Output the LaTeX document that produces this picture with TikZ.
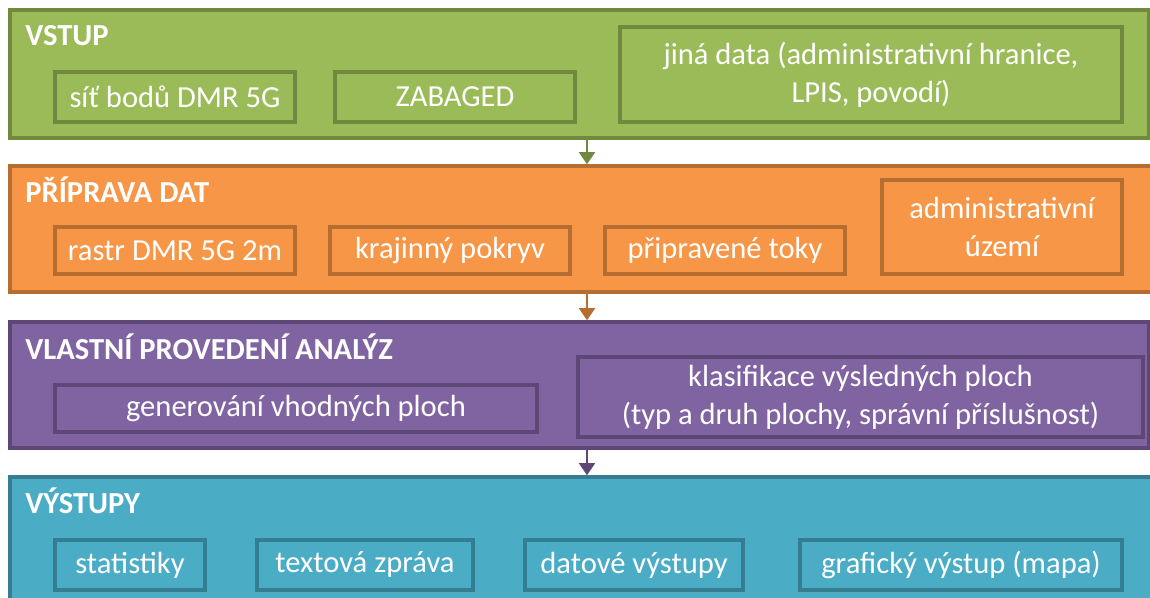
\documentclass[tikz,border=0pt]{standalone}
\usepackage{fontspec}
\setmainfont{Carlito}
\usepackage{tikz}
\usetikzlibrary{arrows.meta}
\definecolor{zelena}{HTML}{9BBB59}
\definecolor{zelenaT}{HTML}{71893F}
\definecolor{oranzova}{HTML}{F79646}
\definecolor{oranzovaT}{HTML}{B66D31}
\definecolor{fialova}{HTML}{8064A2}
\definecolor{fialovaT}{HTML}{5C4776}
\definecolor{tyrkys}{HTML}{4BACC6}
\definecolor{tyrkysT}{HTML}{357D91}
\newcommand{\pismo}{\fontsize{17.4}{21.6}\selectfont}
\tikzset{
  Rozmer/.style 2 args={minimum width=#1*0.02cm, minimum height=#2*0.02cm}, % v pixelech
  Pas/.style={draw=#1T, fill=#1, line width=1.9pt, inner sep=0pt}, % pasy jednotlivych kroku
  Pol/.style={draw=#1T, line width=1.9pt, inner sep=0pt, text=white, align=center}, % polozky
  Nadpis/.style={anchor=west, inner sep=0pt, text=white, font=\pismo\bfseries},
  Sipka/.style={#1T, line width=1.7pt, -{Triangle[width=9pt,length=7pt]}}
}

\begin{document}
\begin{tikzpicture}[x=0.02cm, y=-0.02cm,
font=\pismo
]
\useasboundingbox (0,0) rectangle (1150,598);

%Pasy
\node[Pas=zelena, Rozmer={1139}{128}] (vstup) at (579.5,74) {};
\node[Pas=oranzova, Rozmer={1150}{126}] (priprava) at (585,229) {};
\node[Pas=fialova, Rozmer={1139}{126}] (analyza) at (579.5,385) {};
\node[Pas=tyrkys, Rozmer={1150}{143}] (vystupy) at (585,548.5) {};

%Nadpisy
\node[Nadpis] (vstupN) at (25,36) {VSTUP};
\node[Nadpis] (pripravaN) at (25,190) {PŘÍPRAVA DAT};
\node[Nadpis] (analyzaN) at (25,347) {VLASTNÍ PROVEDENÍ ANALÝZ};
\node[Nadpis] (vystupyN) at (25,501) {VÝSTUPY};

%Polozky - vstup
\node[Pol=zelena, Rozmer={240}{50}] (sit) at (175,97) {síť bodů DMR 5G};
\node[Pol=zelena, Rozmer={240}{50}] (zabaged) at (455,97) {ZABAGED};
\node[Pol=zelena, Rozmer={502}{95}] (jina) at (871,74.5)
  {jiná data (administrativní hranice,\\LPIS, povodí)};

%Polozky - priprava dat
\node[Pol=oranzova, Rozmer={240}{47}] (rastr) at (175,250.5) {rastr DMR 5G 2m};
\node[Pol=oranzova, Rozmer={240}{47}] (pokryv) at (450,250.5) {krajinný pokryv};
\node[Pol=oranzova, Rozmer={240}{47}] (toky) at (725,250.5) {připravené toky};
\node[Pol=oranzova, Rozmer={240}{94}] (uzemi) at (1002,227) {administrativní\\území};

%Polozky - analyza
\node[Pol=fialova, Rozmer={482}{47}] (gen) at (296,408.5) {generování vhodných ploch};
\node[Pol=fialova, Rozmer={565}{80}] (klas) at (860.5,397)
  {klasifikace výsledných ploch\\(typ a druh plochy, správní příslušnost)};

%Polozky - vystupy
\node[Pol=tyrkys, Rozmer={150}{50}] (stat) at (130,565) {statistiky};
\node[Pol=tyrkys, Rozmer={216}{50}] (zprava) at (365,565) {textová zpráva};
\node[Pol=tyrkys, Rozmer={218}{50}] (data) at (634,565) {datové výstupy};
\node[Pol=tyrkys, Rozmer={322}{50}] (mapa) at (961,565) {grafický výstup (mapa)};

%Sipky
\coordinate (osa) at (587,0);
\draw[Sipka=zelena] (vstup.south -| osa) -- (priprava.north -| osa);
\draw[Sipka=oranzova] (priprava.south -| osa) -- (analyza.north -| osa);
\draw[Sipka=fialova] (analyza.south -| osa) -- (vystupy.north -| osa);

\end{tikzpicture}
\end{document}
